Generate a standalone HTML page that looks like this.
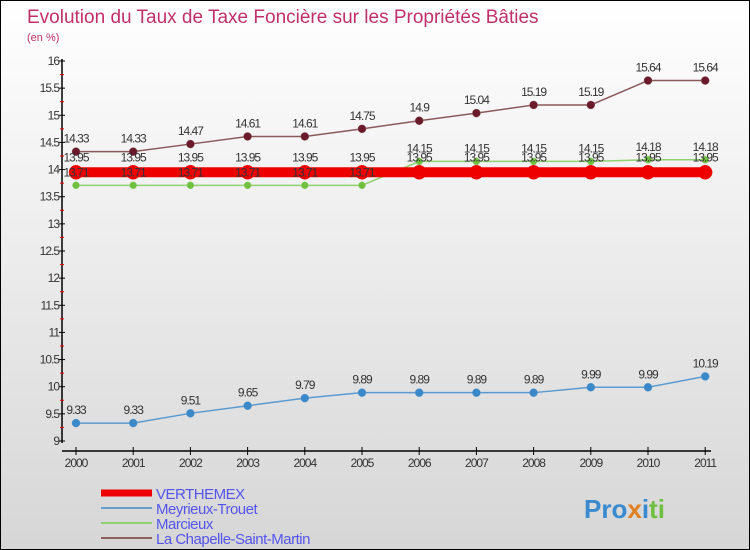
<!DOCTYPE html>
<html><head><meta charset="utf-8"><style>
body{margin:0}
#c{width:748px;height:548px;border:1px solid #000;background:linear-gradient(#ffffff,#d6d6d6);position:relative;font-family:"Liberation Sans",sans-serif;overflow:hidden}
</style></head><body>
<div id="c">
<svg width="748" height="548" id="s">
<text x="26" y="22" font-size="19" fill="#c0306a">Evolution du Taux de Taxe Foncière sur les Propriétés Bâties</text>
<text x="26" y="40" font-size="11" fill="#c0306a">(en %)</text>
<g id="g"></g>
<g id="labels"></g>
</svg>
</div>
<script>
const years=[2000,2001,2002,2003,2004,2005,2006,2007,2008,2009,2010,2011];
const verthemex=[13.95,13.95,13.95,13.95,13.95,13.95,13.95,13.95,13.95,13.95,13.95,13.95];
const meyrieux=[9.33,9.33,9.51,9.65,9.79,9.89,9.89,9.89,9.89,9.99,9.99,10.19];
const marcieux=[13.71,13.71,13.71,13.71,13.71,13.71,14.15,14.15,14.15,14.15,14.18,14.18];
const chapelle=[14.33,14.33,14.47,14.61,14.61,14.75,14.9,15.04,15.19,15.19,15.64,15.64];
const yTicks=[9,9.5,10,10.5,11,11.5,12,12.5,13,13.5,14,14.5,15,15.5,16];
const NS="http://www.w3.org/2000/svg";
const g=document.getElementById('g');
const lab=document.getElementById('labels');
const X=i=>75+i*57.2;
const Y=v=>440-(v-9)*(380/7);
function el(t,a,p){const e=document.createElementNS(NS,t);for(const k in a)e.setAttribute(k,a[k]);(p||g).appendChild(e);return e;}
let e;
e=el('line',{x1:61,y1:58,x2:61,y2:442,stroke:'#000','stroke-width':1.5});


e=el('line',{x1:61,y1:450,x2:710,y2:450,stroke:'#000','stroke-width':1.5});


yTicks.forEach(v=>{
 el('line',{x1:58,x2:64,y1:Y(v),y2:Y(v),stroke:'#000'});
 el('line',{x1:59,x2:63,y1:Y(v+0.25),y2:Y(v+0.25),stroke:'#e00'}).style.display=v<16?'':'none';
 const t=el('text',{x:58,y:Y(v)+4,'text-anchor':'end','font-size':12,fill:'#333','letter-spacing':'-1'});t.textContent=String(v);
 
 
});
years.forEach((yr,i)=>{
 el('line',{x1:X(i),x2:X(i),y1:446,y2:454,stroke:'#000'});
 const t=el('text',{x:X(i),y:466,'text-anchor':'middle','font-size':12,fill:'#333','letter-spacing':'-1'});t.textContent=yr;
 
 
});
function series(d,col,dot,w,r,name,labOff){
 const p=el('polyline',{points:d.map((v,i)=>X(i)+','+Y(v)).join(' '),fill:'none',stroke:col,'stroke-width':w});
 
 
 d.forEach((v,i)=>{
  const c=el('circle',{cx:X(i),cy:Y(v),r:r,fill:dot,stroke:col,'stroke-width':0.5});
  
  
  const t=el('text',{x:X(i),y:Y(v)+labOff,'text-anchor':'middle','font-size':12,fill:'#333','letter-spacing':'-1'},lab);t.textContent=String(v);
  
  
 });
}
series(chapelle,'#8a5a5a','#6a1a2a',1.5,4,'la-chapelle',-9);
series(marcieux,'#90d070','#70c040',1.5,3.5,'marcieux',-9);
series(verthemex,'#ee0000','#ee0000',10,7,'verthemex',-11);
series(meyrieux,'#5a9ad0','#3a88c8',1.5,4,'meyrieux',-9);
const leg=[['VERTHEMEX','#ee0000',7],['Meyrieux-Trouet','#6aa0d0',2],['Marcieux','#90d070',2],['La Chapelle-Saint-Martin','#906060',2]];
leg.forEach((l,i)=>{
 const y=492+i*15;
 const ln=el('line',{x1:100,x2:151,y1:y,y2:y,stroke:l[1],'stroke-width':l[2]});
 
 
 const t=el('text',{x:155,y:y+6,'font-size':15,fill:'#5555ee','letter-spacing':'-0.5'});t.textContent=l[0];
 
 
});
const lg=el('text',{x:583,y:517,'font-size':26,'font-weight':'bold',fill:'#e08020'});
lg.innerHTML='<tspan fill="#3a8ad0">Pro</tspan><tspan fill="#e08020">x</tspan><tspan fill="#3a8ad0">i</tspan><tspan fill="#70c040">ti</tspan>';


</script>
</body></html>
